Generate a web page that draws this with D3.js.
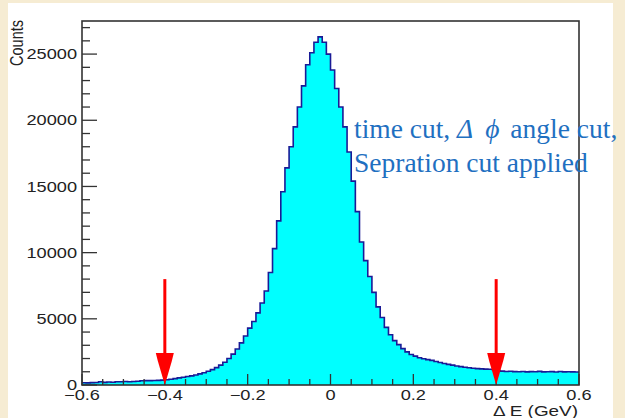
<!DOCTYPE html>
<html><head><meta charset="utf-8">
<script src="https://cdn.jsdelivr.net/npm/d3@7"></script>
<style>body{margin:0;background:#f6ecd3;overflow:hidden} svg{display:block}</style>
</head><body><svg id="c" width="625" height="418"></svg>
<script>
// ---- data ----
const binStart = -0.6;
const binWidth = 0.01;
const counts = [
  170,160,180,190,240,200,230,210,250,240,260,250,270,280,320,330,330,340,350,370,
  400,440,480,540,590,640,690,760,840,930,
  1040,1160,1310,1500,1720,2000,2330,2720,3180,3700,
  4300,4800,5450,6200,7100,8500,10300,12400,14600,16400,
  18000,19500,21000,22600,24200,25100,25900,26300,25900,25000,
  23800,22400,21000,19500,17600,15400,13100,10800,9400,8200,
  7000,5900,5100,4350,3800,3350,3050,2750,2500,2300,
  2180,2060,1980,1920,1860,1770,1700,1620,1560,1500,
  1440,1390,1340,1300,1260,1240,1220,1200,1190,1170,
  1100,1050,1020,1040,1010,1000,1020,990,1010,1000,1030,990,1000,1010,980,1020,990,1000,990,980
];
const yTicks = [0,5000,10000,15000,20000,25000];
const yMinorTicks = d3.range(0, 27501, 1000);
const xTicks = [-0.6,-0.4,-0.2,0,0.2,0.4,0.6];
const xTickLabels = ["\u22120.6","\u22120.4","\u22120.2","0","0.2","0.4","0.6"];
const xMinorTicks = d3.range(-0.6, 0.6001, 0.05);
const cutPositions = [-0.4, 0.4];
const arrowTopCount = 8000;
const xTitle = "\u0394 E (GeV)";
const yTitle = "Counts";
const noteLine1 = ["time cut, ", "\u0394", "\u03D5", " angle cut,"];
const noteLine2 = "Sepration cut applied";

// ---- drawing ----
const svg = d3.select("#c");
svg.append("rect").attr("x",8).attr("y",3).attr("width",605).attr("height",415).attr("fill","#ffffff");

const x = d3.scaleLinear().domain([-0.6,0.6]).range([82,579]);
const y = d3.scaleLinear().domain([0,27500]).range([385,21]);

const bins = counts.map((c,i)=>({x0: binStart+i*binWidth, c}));
const pts = bins.concat([{x0: binStart+counts.length*binWidth, c: counts[counts.length-1]}]);

const area = d3.area().x(d=>x(d.x0)).y0(y(0)).y1(d=>y(d.c)).curve(d3.curveStepAfter);
const line = d3.line().x(d=>x(d.x0)).y(d=>y(d.c)).curve(d3.curveStepAfter);

svg.append("path").datum(pts).attr("d",area).attr("fill","#00ffff");
svg.append("path").datum(pts).attr("d",line).attr("fill","none")
   .attr("stroke","#1a1a96").attr("stroke-width",1.6);

// ticks
const tickCol = "#333";
const g = svg.append("g");
g.selectAll(".ym").data(yMinorTicks).join("line")
  .attr("x1",x(-0.6)).attr("x2",d=> yTicks.includes(d)? x(-0.6)+15 : x(-0.6)+8)
  .attr("y1",d=>y(d)).attr("y2",d=>y(d)).attr("stroke",tickCol).attr("stroke-width",1.3);
g.selectAll(".xm").data(xMinorTicks).join("line")
  .attr("x1",d=>x(d)).attr("x2",d=>x(d))
  .attr("y1",y(0)).attr("y2",d=> xTicks.some(t=>Math.abs(t-d)<1e-6)? y(0)-11 : y(0)-6)
  .attr("stroke",tickCol).attr("stroke-width",1.3);

// tick labels
const font = "'Liberation Sans', Arial, Helvetica, sans-serif";
const yl = svg.append("g");
yTicks.forEach(t=>{
  yl.append("g").attr("transform",`translate(77,${y(t)}) scale(1.3,1)`)
    .append("text").attr("text-anchor","end").attr("dy","0.36em")
    .attr("font-family",font).attr("font-size",14).attr("fill","#222").text(d3.format("d")(t));
});
xTicks.forEach((t,i)=>{
  svg.append("g").attr("transform",`translate(${x(t)},400) scale(1.3,1)`)
    .append("text").attr("text-anchor","middle")
    .attr("font-family",font).attr("font-size",14).attr("fill","#222").text(xTickLabels[i]);
});
svg.append("g").attr("transform",`translate(578,416) scale(1.35,1)`)
  .append("text").attr("text-anchor","end")
  .attr("font-family",font).attr("font-size",14).attr("fill","#222").text(xTitle);
svg.append("text").attr("transform","translate(23,20) rotate(-90) scale(1,1.25)").attr("text-anchor","end")
  .attr("font-family",font).attr("font-size",14.5).attr("fill","#222").text(yTitle);

// arrows
const ar = svg.append("g");
cutPositions.forEach(p=>{
  const cx = x(p), tip = y(0), top = y(arrowTopCount);
  ar.append("line").attr("x1",cx).attr("x2",cx).attr("y1",top).attr("y2",tip-25)
    .attr("stroke","#ff0000").attr("stroke-width",3);
  ar.append("path").attr("d",`M${cx-9},${tip-32} L${cx+9},${tip-32} L${cx+7},${tip-24} L${cx},${tip} L${cx-7},${tip-24} Z`)
    .attr("fill","#ff0000");
});

// frame
svg.append("rect").attr("x",x(-0.6)).attr("y",y(27500)).attr("width",x(0.6)-x(-0.6))
  .attr("height",y(0)-y(27500)).attr("fill","none").attr("stroke","#333").attr("stroke-width",1.6);
// right background strip
svg.append("rect").attr("x",613).attr("y",0).attr("width",12).attr("height",418).attr("fill","#f6ecd3");

// annotation
const serif = "'Liberation Serif', 'Times New Roman', serif";
const noteCol = "#1f70c1";
const t1 = svg.append("text").attr("x",354).attr("y",138).attr("font-family",serif)
  .attr("font-size",27.5).attr("fill",noteCol);
t1.append("tspan").text(noteLine1[0]);
t1.append("tspan").attr("font-style","italic").text(noteLine1[1]);
t1.append("tspan").attr("dx",12).attr("font-style","italic").text(noteLine1[2]);
t1.append("tspan").attr("dx",4).text(noteLine1[3]);
svg.append("text").attr("x",354).attr("y",172).attr("font-family",serif)
  .attr("font-size",27.5).attr("fill",noteCol).text(noteLine2);
</script></body></html>
